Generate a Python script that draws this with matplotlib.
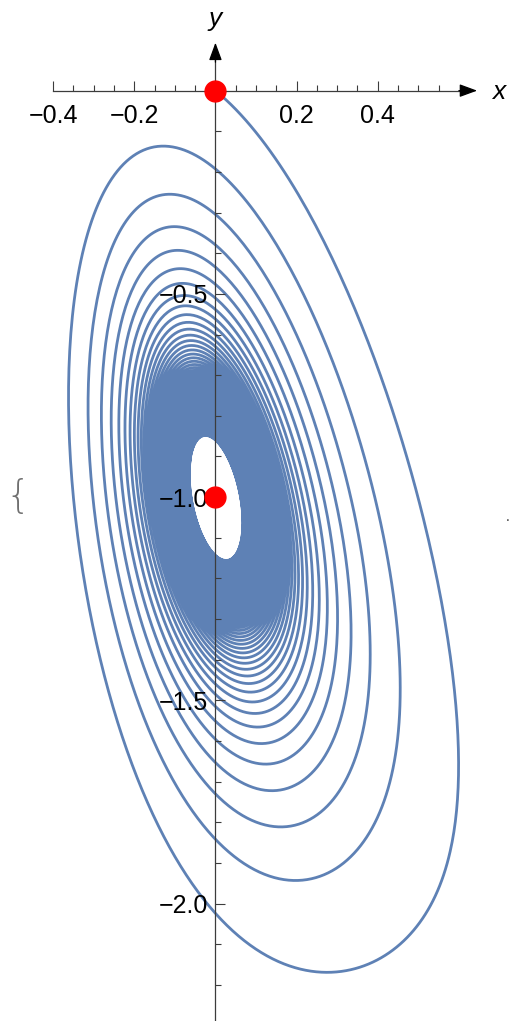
import numpy as np
import matplotlib
matplotlib.use("Agg")
import matplotlib.pyplot as plt

plt.rcParams["font.family"] = ["Liberation Sans", "DejaVu Sans"]

# starting point of the orbit and the focus it winds into
start_pt = [0.0, 0.0]
focus_pt = [0.0, -1.0]

# H(u, v) with u = x, v = y + 1:
#   quadratic part  al*u^2 + 2*be*u*v + v^2
#   cubic part      a*u^3 + b*u^2*v + c*u*v^2 + d*v^3
quad_coef = [5.3820, 0.8852]
cubic_coef = [-2.2786, 1.0424, 0.2709, 0.1728]
# damping strength k and its tilt (1 + e*u + f*v)
damp_coef = [0.01338, 1.1476, -1.0150]
# the orbit is cut once the quadratic part of H drops to this level
h_end = 0.8 * 0.155 ** 2

x_major = [-0.4, -0.2, 0.2, 0.4]
x_minor = [-0.35, -0.3, -0.25, -0.15, -0.1, -0.05, 0.05, 0.1, 0.15,
           0.25, 0.3, 0.35, 0.45, 0.5, 0.55]
y_major = [-2.0, -1.5, -1.0, -0.5]
y_minor = [-2.2, -2.1, -1.9, -1.8, -1.7, -1.6, -1.4, -1.3, -1.2, -1.1,
           -0.9, -0.8, -0.7, -0.6, -0.4, -0.3, -0.2, -0.1]

LINE_COLOR = "#5E81B5"
AXIS_COLOR = "#3c3c3c"


def field(u, v):
    al, be = quad_coef
    a, b, c, d = cubic_coef
    k, e, f = damp_coef
    H = al*u*u + 2*be*u*v + v*v + a*u**3 + b*u*u*v + c*u*v*v + d*v**3
    Hu = 2*al*u + 2*be*v + 3*a*u*u + 2*b*u*v + c*v*v
    Hv = 2*be*u + 2*v + b*u*u + 2*c*u*v + 3*d*v*v
    g = k*H*(1 + e*u + f*v)
    return 0.5*Hv - g*Hu, -0.5*Hu - g*Hv


def trajectory(dt=0.01, tmax=420.0):
    """RK4 from the start point until the orbit reaches the inner level"""
    al, be = quad_coef
    u, v = start_pt[0] - focus_pt[0], start_pt[1] - focus_pt[1]
    us, vs = [u], [v]
    for i in range(int(tmax / dt)):
        k1 = field(u, v)
        k2 = field(u + 0.5*dt*k1[0], v + 0.5*dt*k1[1])
        k3 = field(u + 0.5*dt*k2[0], v + 0.5*dt*k2[1])
        k4 = field(u + dt*k3[0], v + dt*k3[1])
        u += dt*(k1[0] + 2*k2[0] + 2*k3[0] + k4[0])/6
        v += dt*(k1[1] + 2*k2[1] + 2*k3[1] + k4[1])/6
        us.append(u)
        vs.append(v)
        if i % 50 == 0 and al*u*u + 2*be*u*v + v*v < h_end:
            break
    return np.array(us) + focus_pt[0], np.array(vs) + focus_pt[1]


def main():
    xs, ys = trajectory()

    fig = plt.figure(figsize=(5.1, 10.21), dpi=100)
    ax = fig.add_axes([0, 0, 1, 1])
    ax.set_xlim(-0.531, 0.726)
    ax.set_ylim(-2.289, 0.223)

    ax.plot(xs, ys, color=LINE_COLOR, lw=2.0, zorder=2)
    ax.plot(*start_pt, "o", color="red", ms=15, zorder=4)
    ax.plot(*focus_pt, "o", color="red", ms=15, zorder=4)

    # axes through the origin, with arrow heads
    for side in ("top", "right"):
        ax.spines[side].set_visible(False)
    ax.spines["left"].set_position(("data", 0))
    ax.spines["bottom"].set_position(("data", 0))
    ax.spines["bottom"].set_bounds(-0.4, 0.62)
    ax.spines["left"].set_bounds(-2.3, 0.09)
    for side in ("left", "bottom"):
        ax.spines[side].set_color(AXIS_COLOR)
        ax.spines[side].set_linewidth(0.9)
    head = dict(arrowstyle="-|>,head_length=0.6,head_width=0.22", color="black",
                lw=0.9, mutation_scale=18, shrinkA=0, shrinkB=0)
    ax.annotate("", xy=(0.645, 0), xytext=(0.60, 0), arrowprops=head, zorder=3)
    ax.annotate("", xy=(0, 0.118), xytext=(0, 0.07), arrowprops=head, zorder=3)

    ax.set_xticks(x_major)
    ax.set_xticks(x_minor, minor=True)
    ax.set_yticks(y_major)
    ax.set_yticks(y_minor, minor=True)
    ax.set_axisbelow(False)
    ax.tick_params(which="major", direction="in", length=7, width=0.8,
                   color=AXIS_COLOR, labelsize=18, labelcolor="black")
    ax.tick_params(which="minor", direction="in", length=4, width=0.8,
                   color=AXIS_COLOR)
    ax.tick_params(axis="x", which="major", pad=9.5)
    ax.tick_params(axis="y", which="major", pad=5.5)

    ax.text(0.698, -0.021, "x", style="italic", fontsize=19,
            ha="center", va="baseline")
    ax.text(0.0, 0.159, "y", style="italic", fontsize=19,
            ha="center", va="baseline")

    # list brace and trailing dot around the plot
    fig.text(18 / 510, 1 - 497 / 1021, "{", fontsize=28, color="#707070",
             family="DejaVu Sans", fontweight="light", ha="center", va="center")
    fig.text(508 / 510, 1 - 521 / 1021, ".", fontsize=10, color="#333333",
             ha="center", va="baseline")

    fig.savefig("out.png", dpi=100)


if __name__ == "__main__":
    main()
